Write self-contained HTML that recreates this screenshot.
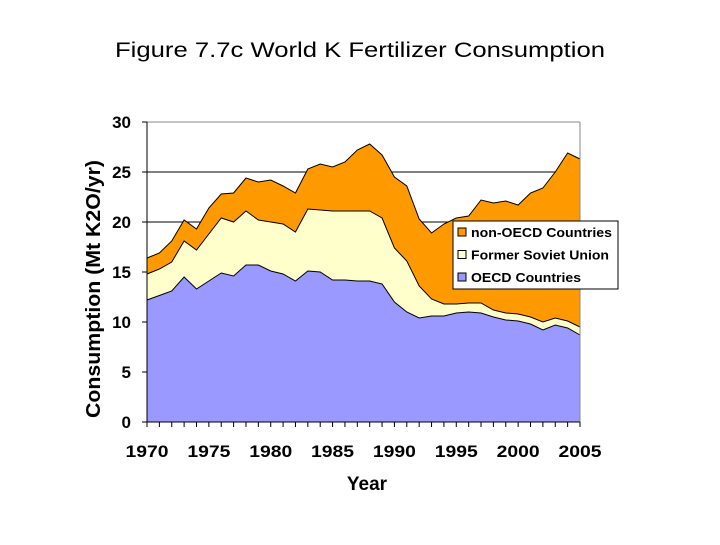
<!DOCTYPE html>
<html><head><meta charset="utf-8"><style>
body{margin:0;background:#fff;}
svg text{font-family:"Liberation Sans",Arial,sans-serif;font-weight:bold;}
</style></head><body>
<svg width="720" height="540" xmlns="http://www.w3.org/2000/svg">
<text x="360" y="57" text-anchor="middle" font-size="21" textLength="490" lengthAdjust="spacingAndGlyphs" style="font-weight:normal">Figure 7.7c World K Fertilizer Consumption</text>
<g id="plot"></g>
</svg>
<script>
const years=[];for(let y=1970;y<=2005;y++)years.push(y);
const oecd=[12.2,12.65,13.1,14.5,13.3,14.1,14.9,14.6,15.7,15.7,15.1,14.8,14.1,15.1,15.0,14.2,14.2,14.1,14.1,13.8,12.0,11.0,10.4,10.6,10.6,10.9,11.0,10.9,10.5,10.2,10.1,9.8,9.2,9.7,9.4,8.7];
const fsu=[2.6,2.65,2.9,3.6,3.9,4.7,5.5,5.4,5.4,4.5,4.9,5.0,4.9,6.2,6.2,6.9,6.9,7.0,7.0,6.6,5.4,5.1,3.2,1.7,1.2,0.9,0.9,1.0,0.7,0.7,0.7,0.7,0.8,0.7,0.7,0.8];
const nonOecd=[1.6,1.6,2.1,2.1,2.1,2.6,2.4,2.9,3.3,3.8,4.2,3.8,3.9,4.0,4.6,4.4,4.9,6.1,6.7,6.3,7.1,7.5,6.7,6.6,8.0,8.6,8.7,10.3,10.7,11.2,10.9,12.4,13.4,14.6,16.8,16.8];
const yTicks=[0,5,10,15,20,25,30];
const xLabels=[1970,1975,1980,1985,1990,1995,2000,2005];
const NS="http://www.w3.org/2000/svg";
const L=147,R=580,T=122,B=422;
const X=y=>L+(y-1970)*(R-L)/35;
const Y=v=>B-v*(B-T)/30;
const g=document.getElementById('plot');
function mk(t,a){const e=document.createElementNS(NS,t);for(const k in a)e.setAttribute(k,a[k]);g.appendChild(e);return e;}
yTicks.forEach(v=>{
 if(v>0){const l=mk('line',{x1:L,x2:R,y1:Y(v),y2:Y(v),stroke:v===30?'#888':'#000','stroke-width':1});
 
 }
 const t=mk('text',{x:L-16,y:Y(v)+6,'text-anchor':'end','font-size':17});t.textContent=v;
 
 
 const tk=mk('line',{x1:L-5,x2:L,y1:Y(v),y2:Y(v),stroke:'#000'});
 
 
});
const c1=oecd, c2=oecd.map((v,i)=>v+fsu[i]), c3=c2.map((v,i)=>v+nonOecd[i]);
function area(top,bot,fill,name){
 let d='M'+years.map((y,i)=>X(y)+','+Y(top[i])).join(' L');
 for(let i=years.length-1;i>=0;i--)d+=' L'+X(years[i])+','+Y(bot?bot[i]:0);
 const p=mk('path',{d:d+'Z',fill:fill,stroke:'none'});
 
 
 const ln=mk('polyline',{points:years.map((y,i)=>X(y)+','+Y(top[i])).join(' '),fill:'none',stroke:'#000','stroke-width':1});
 
 
}
area(c3,c2,'#ff9900','area-non-oecd');
area(c2,c1,'#ffffcc','area-former-soviet-union');
area(c1,null,'#9999ff','area-oecd');
const rb=mk('line',{x1:R,x2:R,y1:T,y2:B,stroke:'#888'});


const ax=mk('line',{x1:L,x2:L,y1:T,y2:B,stroke:'#000'});


const bx=mk('line',{x1:L,x2:R,y1:B,y2:B,stroke:'#000'});


years.forEach(y=>{const t=mk('line',{x1:X(y),x2:X(y),y1:B,y2:B+5,stroke:'#000'});
 
 });
xLabels.forEach(y=>{const t=mk('text',{x:X(y),y:457,'text-anchor':'middle','font-size':17,textLength:43,lengthAdjust:'spacingAndGlyphs'});t.textContent=y;
 
 });
const xt=mk('text',{x:367,y:490,'text-anchor':'middle','font-size':19});xt.textContent='Year';


const yt=mk('text',{x:0,y:0,'text-anchor':'middle','font-size':20,textLength:258,lengthAdjust:'spacingAndGlyphs',transform:'translate(100,289) rotate(-90)'});yt.textContent='Consumption (Mt K2O/yr)';


const lg=mk('rect',{x:453,y:221,width:165,height:68,fill:'#fff',stroke:'#000'});


[['non-OECD Countries','#ff9900',141],['Former Soviet Union','#ffffcc',138],['OECD Countries','#9999ff',110]].forEach((e,i)=>{
 const yy=228+i*22.5;
 const s=mk('rect',{x:458,y:yy,width:8,height:8,fill:e[1],stroke:'#000'});
 
 
 const t=mk('text',{x:471,y:yy+9,'font-size':13,textLength:e[2],lengthAdjust:'spacingAndGlyphs'});t.textContent=e[0];
 
 
});
</script>
</body></html>
